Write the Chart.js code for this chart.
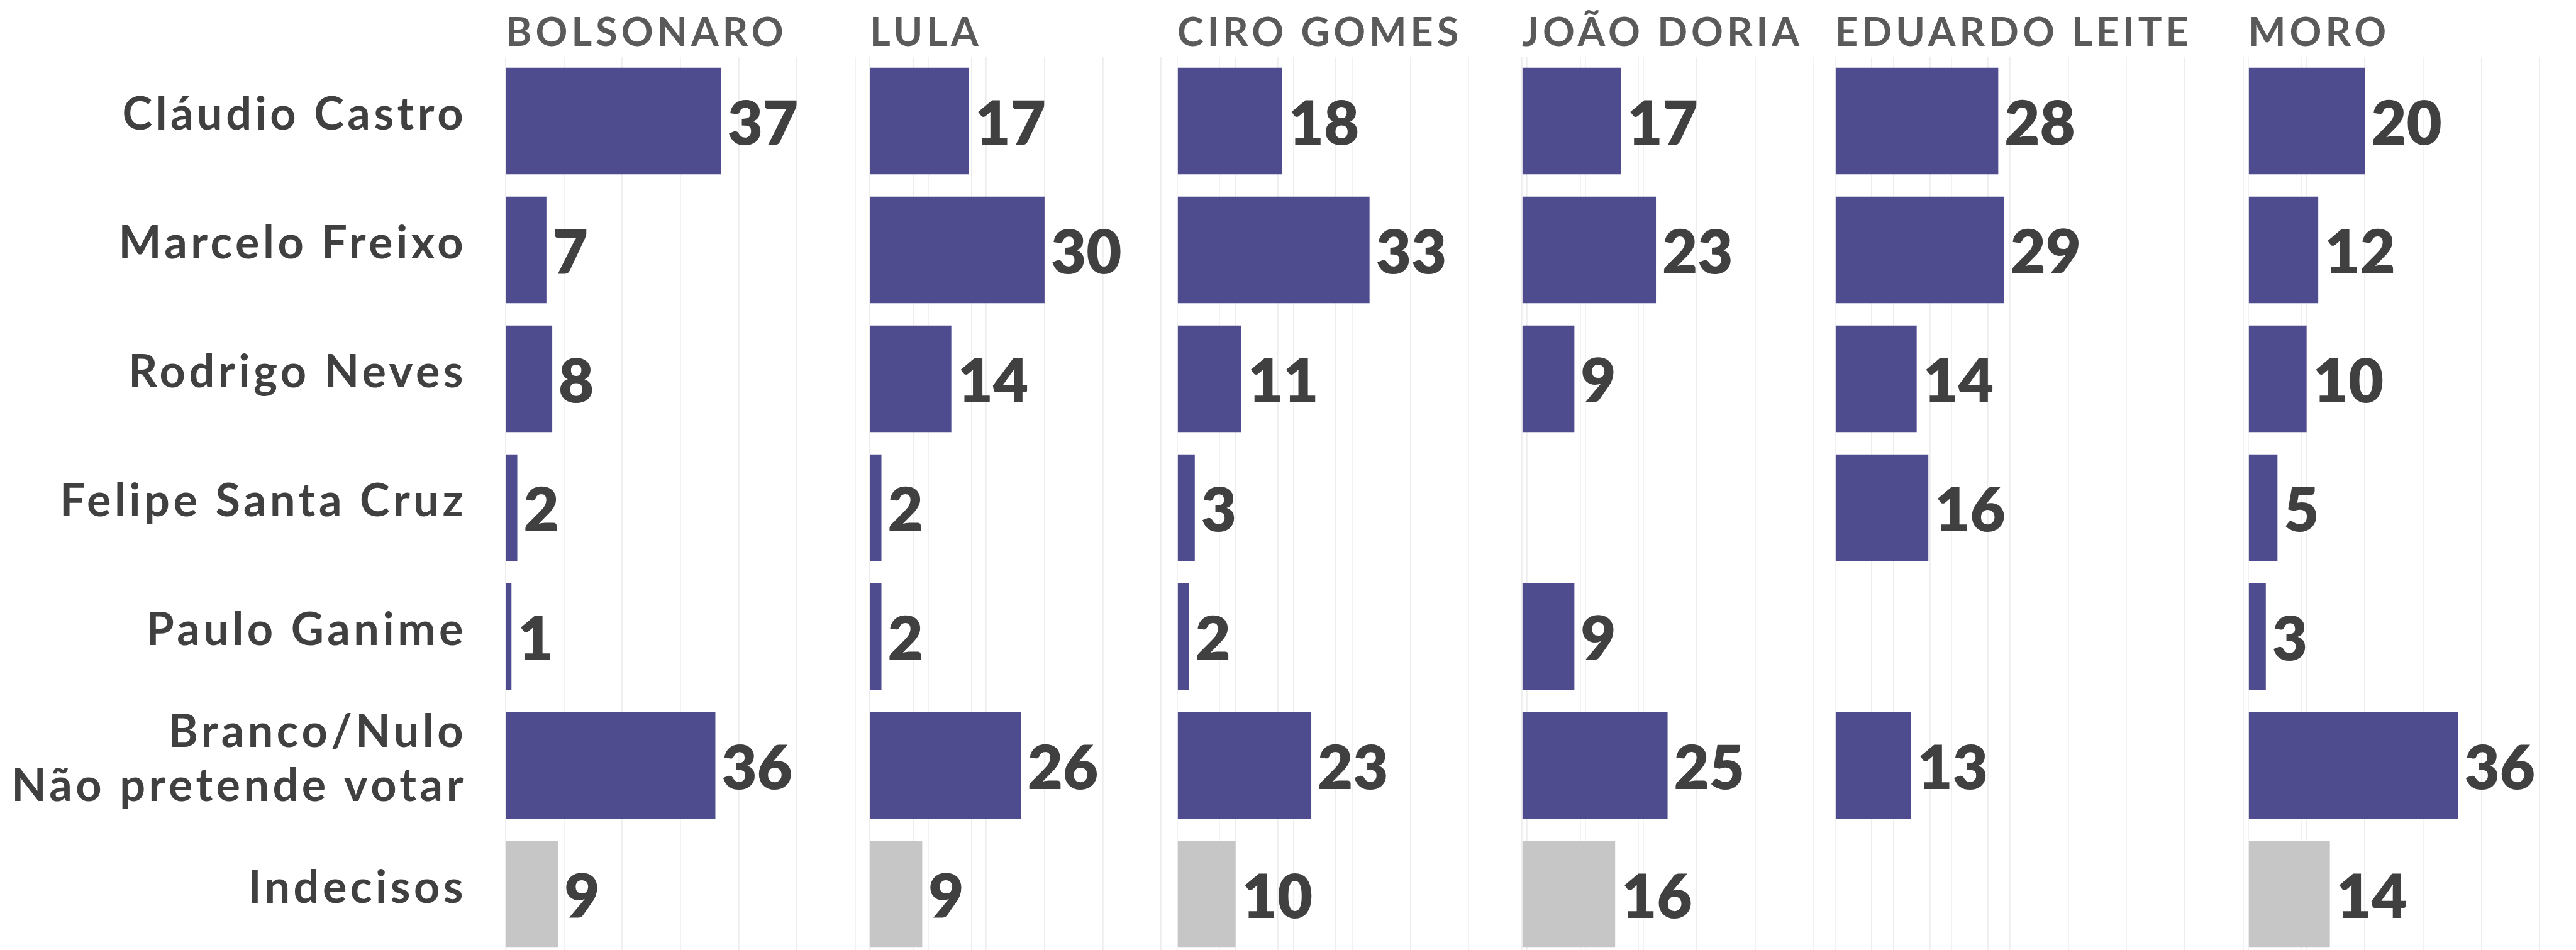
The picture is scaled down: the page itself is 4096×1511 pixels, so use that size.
<!DOCTYPE html>
<html>
<head>
<meta charset="utf-8">
<script src="https://cdn.jsdelivr.net/npm/chart.js@4.4.1/dist/chart.umd.min.js"></script>
<style>
    html, body {
        margin: 0;
        padding: 0;
        background: #fff;
        overflow: hidden;
    }
    #wrap {
        position: relative;
        width: 4096px;
        height: 1511px;
        overflow: hidden;
        background: #fff;
    }
    #wrap canvas {
        position: absolute;
        top: 0;
    }
</style>
</head>
<body>
<div id="wrap"></div>

<script>
// candidatos ao governo (linhas)
var categories = [
    'Cláudio Castro',
    'Marcelo Freixo',
    'Rodrigo Neves',
    'Felipe Santa Cruz',
    'Paulo Ganime',
    ['Branco/Nulo', 'Não pretende votar'],
    'Indecisos'
];

// presidenciáveis (colunas)
var panels = ['BOLSONARO', 'LULA', 'CIRO GOMES', 'JOÃO DORIA', 'EDUARDO LEITE', 'MORO'];

var bolsonaro = [37, 7, 8, 2, 1, 36, 9];
var lula      = [17, 30, 14, 2, 2, 26, 9];
var ciro      = [18, 33, 11, 3, 2, 23, 10];
var doria     = [17, 23, 9, null, 9, 25, 16];
var leite     = [28, 29, 14, 16, null, 13, null];
var moro      = [20, 12, 10, 5, 3, 36, 14];

var series = [bolsonaro, lula, ciro, doria, leite, moro];

var gridMax = 80;
var gridStep = 10;

// layout (px, already at 0.83)
var panelLeft = [804, 1383, 1872, 2420, 2918, 3575];
var areaW = 741;
var pad = 4;
var canvasH = 1530;
var areaTop = 90;
var areaBottom = canvasH - 1525;

var purple = '#4e4b8f';
var grey = '#c6c6c6';
var FONT = 'Lato, "Open Sans", sans-serif';

var panelPlugin = {
    id: 'panelText',
    beforeLayout: function (chart) {
        chart.ctx.letterSpacing = '5.5px';
    },
    beforeDraw: function (chart) {
        chart.ctx.letterSpacing = '5.5px';
    },
    afterDatasetsDraw: function (chart) {
        var ctx = chart.ctx;
        var meta = chart.getDatasetMeta(0);
        var vals = chart.data.datasets[0].data;
        ctx.save();
        ctx.letterSpacing = '0px';
        ctx.font = '800 97px ' + FONT;
        ctx.fillStyle = '#404040';
        ctx.textAlign = 'left';
        ctx.textBaseline = 'alphabetic';
        meta.data.forEach(function (bar, i) {
            if (vals[i] == null) return;
            ctx.fillText(String(vals[i]), bar.x + 10, bar.y + 37);
        });
        ctx.restore();
    },
    afterDraw: function (chart) {
        var ctx = chart.ctx;
        ctx.save();
        ctx.letterSpacing = '6px';
        ctx.font = '700 63px ' + FONT;
        ctx.fillStyle = '#5a5a5a';
        ctx.textAlign = 'left';
        ctx.textBaseline = 'alphabetic';
        ctx.fillText(panels[chart.$panel], chart.chartArea.left, 73);
        ctx.restore();
    }
};

function makePanel(idx) {
    var first = idx == 0;
    var cv = document.createElement('canvas');
    var left = first ? 0 : panelLeft[idx] - pad;
    var w = first ? panelLeft[0] + areaW + pad : areaW + 2 * pad;
    cv.width = w;
    cv.height = canvasH;
    cv.style.left = left + 'px';
    document.getElementById('wrap').appendChild(cv);

    var vals = series[idx];
    var colors = [];
    for (var i = 0; i < vals.length; i++) {
        colors.push(i == vals.length - 1 ? grey : purple);
    }

    var chart = new Chart(cv.getContext('2d'), {
        type: 'bar',
        data: {
            labels: categories,
            datasets: [{
                data: vals,
                backgroundColor: colors,
                borderWidth: 0,
                categoryPercentage: 1,
                barPercentage: 0.826
            }]
        },
        options: {
            indexAxis: 'y',
            responsive: false,
            animation: false,
            devicePixelRatio: 1,
            layout: {
                padding: {top: areaTop, bottom: areaBottom, left: first ? 0 : pad, right: pad}
            },
            plugins: {
                legend: {display: false},
                tooltip: {enabled: false},
                title: {display: false}
            },
            scales: {
                x: {
                    min: 0,
                    max: gridMax,
                    ticks: {display: false, stepSize: gridStep},
                    grid: {color: '#ededed', lineWidth: 1.7, drawTicks: false},
                    border: {display: false}
                },
                y: {
                    display: first,
                    afterFit: function (scale) {
                        if (!first) return;
                        scale.width = panelLeft[0];
                        scale.paddingTop = 0;
                        scale.paddingBottom = 0;
                    },
                    grid: {display: false, drawTicks: false},
                    border: {display: false},
                    ticks: {
                        padding: 62,
                        labelOffset: -10,
                        color: '#404040',
                        font: {family: FONT, size: 72, weight: '700', lineHeight: 1.2}
                    }
                }
            }
        },
        plugins: [panelPlugin]
    });
    chart.$panel = idx;
    chart.draw();
    return chart;
}

for (var p = 0; p < panels.length; p++) {
    makePanel(p);
}
</script>
</body>
</html>
